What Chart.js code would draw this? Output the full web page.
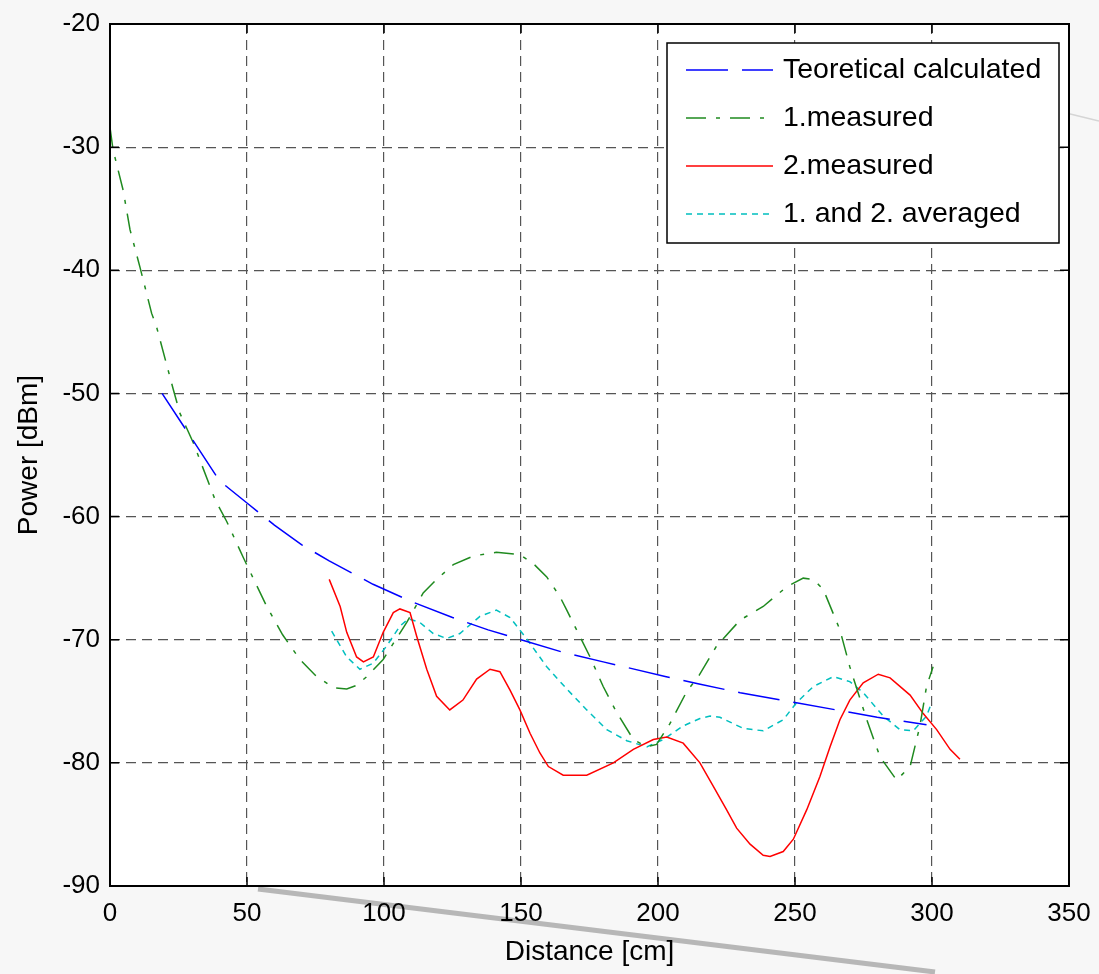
<!DOCTYPE html>
<html>
<head>
<meta charset="utf-8">
<script src="https://cdn.jsdelivr.net/npm/chart.js@4.4.1/dist/chart.umd.min.js"></script>
<style>
    html, body { margin: 0; padding: 0; background: #f7f7f7; }
    #wrap { width: 1099px; height: 974px; position: relative; }
</style>
</head>
<body>
<div id="wrap"><canvas id="powerChart" width="1099" height="974"></canvas></div>
<script>
/* ============================
   Datos
============================ */
const X_TICKS = [0, 50, 100, 150, 200, 250, 300, 350]
const Y_TICKS = [-20, -30, -40, -50, -60, -70, -80, -90]

const LABELS = ['Teoretical calculated', '1.measured', '2.measured', '1. and 2. averaged']

const theoX = [19, 40, 50, 60, 70, 80, 96, 110, 125, 138, 150, 165, 180, 203, 215, 230, 250, 265, 280, 298]
const theoY = [-50, -57.1, -58.9, -60.7, -62.3, -63.6, -65.5, -66.9, -68.2, -69.2, -70.0, -71.0, -71.8, -73.0, -73.6, -74.3, -75.1, -75.7, -76.3, -76.9]

const meas1X = [0, 1.1, 4.8, 7.3, 11, 15.2, 17, 23, 25.5, 30.4, 38.3, 42.6, 48.6, 57.2, 63, 69.3, 75, 81.5, 86.4, 90, 93.7,
    99.7, 103.4, 108.3, 114.3, 119.2, 125.3, 132.6, 141, 149.6, 154.4, 159.4, 164.2, 166.7, 170.3, 175.2, 180, 184.9, 191,
    195.9, 199.5, 204.4, 210.5, 215, 221.4, 230, 238.4, 247, 253, 256.6, 260.3, 266.4, 270, 276.2, 281, 287.1, 292, 295.6, 298, 300.4]
const meas1Y = [-28.4, -30.2, -33.5, -36.7, -39.8, -43.5, -44.6, -49.6, -51.6, -54, -58.6, -60.4, -63.3, -67.3, -69.6, -71.6, -72.9, -73.9, -74, -73.7, -73,
    -71.6, -70.3, -68.6, -66.2, -65.1, -63.9, -63.2, -62.9, -63.1, -63.8, -64.9, -66.5, -67.6, -69.2, -71.4, -73.8, -75.9, -78.1,
    -78.7, -78.5, -76.8, -74.2, -72.9, -70.5, -68.4, -67.3, -65.7, -65, -65.1, -65.9, -69.2, -72.2, -76.5, -79.5, -81.4, -80.3, -77, -73.8, -72.2]

const meas2X = [80, 84, 86.4, 90, 92.5, 96.1, 99.7, 103.4, 105.8, 109.5, 111.9, 115.6, 119.2, 124, 128.8, 133.8, 138.7, 142.3, 146,
    149.6, 153.3, 156.9, 160, 165.4, 174, 183.7, 191, 198.3, 203.2, 209.2, 215.3, 220.2, 225, 228.7, 233.6, 238.4, 240.9, 245.7,
    249.4, 254.3, 259.1, 262.8, 266.4, 270, 274.9, 280.4, 284.7, 292, 296.8, 301.7, 306.6, 310.2]
const meas2Y = [-65.1, -67.3, -69.4, -71.4, -71.8, -71.4, -69.4, -67.8, -67.5, -67.8, -69.7, -72.4, -74.6, -75.7, -74.9, -73.2, -72.4, -72.6, -74.1,
    -75.7, -77.6, -79.2, -80.3, -81, -81, -80, -78.9, -78.1, -77.9, -78.4, -80, -81.9, -83.8, -85.3, -86.6, -87.5, -87.6, -87.2,
    -86.2, -83.8, -81.1, -78.7, -76.5, -74.9, -73.5, -72.8, -73.1, -74.5, -76, -77.3, -78.9, -79.7]

const avgX = [80.9, 86.4, 91.2, 96.1, 101, 105.8, 108.9, 113.1, 118, 122.9, 127.7, 135, 141, 146, 152, 159.4, 166.7, 174, 181.3,
    188.6, 195.9, 202, 209.2, 215.3, 219, 222.6, 231.1, 238.4, 245.7, 250.6, 256.7, 264, 270, 274.9, 282.2, 288.3, 293.2, 298, 299.9]
const avgY = [-69.3, -71.4, -72.4, -71.9, -70.5, -68.9, -68.3, -68.6, -69.5, -69.9, -69.5, -68.1, -67.6, -68.2, -69.9, -72.2, -74, -75.7, -77.3,
    -78.2, -78.7, -78.1, -77, -76.4, -76.2, -76.3, -77.2, -77.4, -76.5, -75.1, -73.8, -73, -73.4, -74.3, -76.2, -77.3, -77.4, -76.2, -75.1]

/* ============================
   Estilo
============================ */
const FONT = "'Liberation Sans', Arial, Helvetica, sans-serif"
const toPoints = (xs, ys) => xs.map((x, i) => ({ x, y: ys[i] }))

// fondo blanco del área + artefactos grises del escaneo
const backdrop = {
    id: 'backdrop',
    beforeDraw(chart) {
        const { ctx, chartArea: a } = chart
        ctx.save()
        ctx.strokeStyle = 'rgba(120,120,120,0.5)'
        ctx.lineWidth = 5
        ctx.beginPath()
        ctx.moveTo(258, 889)
        ctx.lineTo(935, 972)
        ctx.stroke()
        ctx.strokeStyle = 'rgba(150,150,150,0.35)'
        ctx.lineWidth = 1.5
        ctx.beginPath()
        ctx.moveTo(1062, 112)
        ctx.lineTo(1099, 121)
        ctx.stroke()
        ctx.fillStyle = '#ffffff'
        ctx.fillRect(a.left, a.top, a.right - a.left, a.bottom - a.top)
        ctx.restore()
    }
}

// marco negro y ticks hacia adentro (estilo MATLAB)
const frame = {
    id: 'frame',
    afterDatasetsDraw(chart) {
        const { ctx, chartArea: a, scales } = chart
        ctx.save()
        ctx.strokeStyle = '#000'
        ctx.lineWidth = 1.5
        ctx.setLineDash([])
        ctx.beginPath()
        X_TICKS.forEach(v => {
            const px = scales.x.getPixelForValue(v)
            ctx.moveTo(px, a.bottom); ctx.lineTo(px, a.bottom - 9)
            ctx.moveTo(px, a.top); ctx.lineTo(px, a.top + 9)
        })
        Y_TICKS.forEach(v => {
            const py = scales.y.getPixelForValue(v)
            ctx.moveTo(a.left, py); ctx.lineTo(a.left + 9, py)
            ctx.moveTo(a.right, py); ctx.lineTo(a.right - 9, py)
        })
        ctx.stroke()
        ctx.lineWidth = 2
        ctx.strokeRect(a.left, a.top, a.right - a.left, a.bottom - a.top)
        ctx.restore()
    }
}

// leyenda dentro del área, arriba a la derecha
const legendBox = {
    id: 'legendBox',
    afterDatasetsDraw(chart) {
        const { ctx, chartArea: a } = chart
        const w = 392, h = 200
        const x0 = a.right - 10 - w
        const y0 = a.top + 19
        ctx.save()
        ctx.fillStyle = '#fff'
        ctx.fillRect(x0, y0, w, h)
        ctx.strokeStyle = '#000'
        ctx.lineWidth = 1.5
        ctx.strokeRect(x0, y0, w, h)
        chart.data.datasets.forEach((ds, i) => {
            const y = y0 + 27 + i * 48
            ctx.strokeStyle = ds.borderColor
            ctx.lineWidth = ds.borderWidth
            ctx.setLineDash(ds.borderDash || [])
            ctx.beginPath()
            ctx.moveTo(x0 + 19, y)
            ctx.lineTo(x0 + 106, y)
            ctx.stroke()
            ctx.setLineDash([])
            ctx.fillStyle = '#000'
            ctx.font = `28.5px ${FONT}`
            ctx.textBaseline = 'middle'
            ctx.fillText(ds.label, x0 + 116, y)
        })
        ctx.restore()
    }
}

/* ============================
   Chart
============================ */
Chart.defaults.font.family = FONT
Chart.defaults.font.size = 26
Chart.defaults.color = '#000'

const ctx = document.getElementById('powerChart').getContext('2d')
new Chart(ctx, {
    type: 'line',
    data: {
        datasets: [
            { label: LABELS[0], data: toPoints(theoX, theoY), borderColor: '#0000ff', borderWidth: 1.5, borderDash: [42, 14] },
            { label: LABELS[1], data: toPoints(meas1X, meas1Y), borderColor: '#1f8a1f', borderWidth: 1.5, borderDash: [20, 10, 4, 10] },
            { label: LABELS[2], data: toPoints(meas2X, meas2Y), borderColor: '#ff0000', borderWidth: 1.5 },
            { label: LABELS[3], data: toPoints(avgX, avgY), borderColor: '#00bfbf', borderWidth: 1.5, borderDash: [6, 5] }
        ]
    },
    options: {
        responsive: false,
        animation: false,
        devicePixelRatio: 1,
        elements: { point: { radius: 0 }, line: { tension: 0, fill: false } },
        layout: { padding: { top: 24, right: 30, left: 0, bottom: 0 } },
        plugins: { legend: { display: false }, tooltip: { enabled: false } },
        scales: {
            x: {
                type: 'linear',
                min: 0,
                max: 350,
                afterFit: s => { s.height = 88 },
                afterBuildTicks: s => { s.ticks = X_TICKS.map(v => ({ value: v })) },
                ticks: { padding: 0, font: { size: 26 } },
                grid: { color: '#555', lineWidth: 1.2, drawTicks: true, tickLength: 12, tickColor: 'rgba(0,0,0,0)' },
                border: { display: false, dash: [10, 6] },
                title: { display: true, text: 'Distance [cm]', font: { size: 28 }, padding: { top: 0, bottom: 5 } }
            },
            y: {
                type: 'linear',
                min: -90,
                max: -20,
                afterFit: s => { s.width = 110 },
                afterBuildTicks: s => { s.ticks = Y_TICKS.map(v => ({ value: v })) },
                ticks: { padding: 0, font: { size: 26 } },
                grid: { color: '#555', lineWidth: 1.2, drawTicks: true, tickLength: 10, tickColor: 'rgba(0,0,0,0)' },
                border: { display: false, dash: [10, 6] },
                title: { display: true, text: 'Power [dBm]', font: { size: 28 }, padding: { top: 12, bottom: 0 } }
            }
        }
    },
    plugins: [backdrop, frame, legendBox]
})
</script>
</body>
</html>
